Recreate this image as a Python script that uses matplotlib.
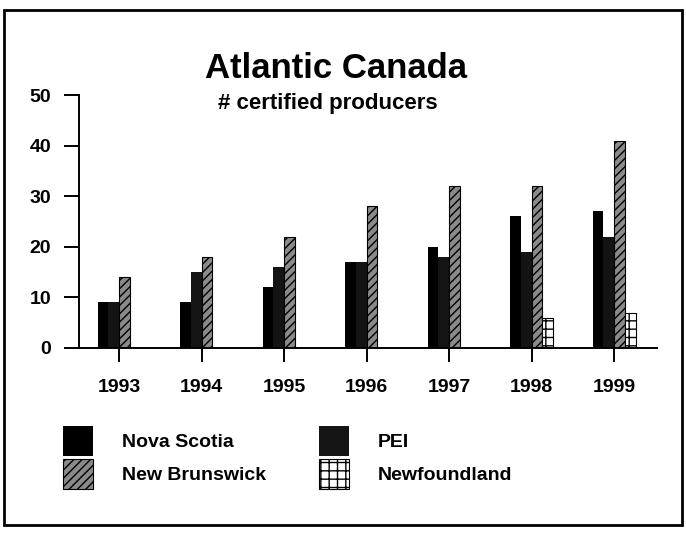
import numpy as np
import matplotlib
matplotlib.use("Agg")
import matplotlib.pyplot as plt
from matplotlib.patches import Rectangle

plt.rcParams['font.family'] = ['Liberation Sans', 'DejaVu Sans']
plt.rcParams['font.weight'] = 'bold'
plt.rcParams['hatch.linewidth'] = 1.0

# 数据
years = ['1993', '1994', '1995', '1996', '1997', '1998', '1999']
nova_scotia = [9, 9, 12, 17, 20, 26, 27]
pei = [9, 15, 16, 17, 18, 19, 22]
new_brunswick = [14, 18, 22, 28, 32, 32, 41]
newfoundland = [0, 0, 0, 0, 0, 6, 7]
series_names = ['Nova Scotia', 'New Brunswick', 'PEI', 'Newfoundland']

fig = plt.figure(figsize=(6.86, 5.35), dpi=100)
ax = fig.add_axes([79 / 686, 1 - 348 / 535, (657 - 79) / 686, (348 - 95) / 535])

x = np.arange(len(years))
w = 0.13
b_ns = ax.bar(x - 1.5 * w, nova_scotia, w, color='black', linewidth=0)
b_pei = ax.bar(x - 0.5 * w, pei, w, color='#141414', linewidth=0)
b_nb = ax.bar(x + 0.5 * w, new_brunswick, w, color='#8a8a8a', edgecolor='black',
              hatch='////', linewidth=0.8)
b_nf = ax.bar(x + 1.5 * w, newfoundland, w, color='white', edgecolor='black',
              hatch='++', linewidth=0.8)

ax.set_xlim(-0.485, 6.52)
ax.set_ylim(0, 50)
ax.set_xticks(x)
ax.set_xticklabels(years)
ax.set_yticks([0, 10, 20, 30, 40, 50])
ax.tick_params(axis='y', direction='out', length=11, width=1.4, pad=9, labelsize=14)
ax.tick_params(axis='x', direction='out', length=10, width=1.4, pad=12, labelsize=14)
for s in ['top', 'right']:
    ax.spines[s].set_visible(False)
for s in ['left', 'bottom']:
    ax.spines[s].set_linewidth(1.4)

# 标题
fig.text(336 / 686, 1 - 68 / 535, 'Atlantic Canada', ha='center', va='center',
         fontsize=25, fontweight='bold')
fig.text(328 / 686, 1 - 103 / 535, '# certified producers', ha='center', va='center',
         fontsize=16, fontweight='bold')

# 图例
fig.legend([b_ns, b_nb, b_pei, b_nf], series_names, ncol=2, frameon=False,
           loc='upper left', bbox_to_anchor=(53 / 686, 1 - 416 / 535),
           borderpad=0, handlelength=1.55, handleheight=2.0, handletextpad=1.5,
           labelspacing=0.15, columnspacing=2.7, fontsize=14)

# 外框
fig.add_artist(Rectangle((0.006, 0.019), 0.988, 0.962, transform=fig.transFigure,
                         fill=False, linewidth=2, edgecolor='black'))

fig.savefig('out.png', dpi=100)
